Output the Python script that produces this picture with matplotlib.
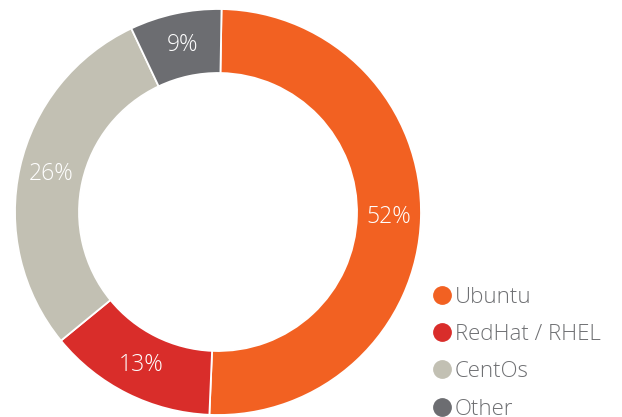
import numpy as np
import matplotlib.pyplot as plt
from matplotlib.lines import Line2D

labels = ["Ubuntu", "RedHat / RHEL", "CentOs", "Other"]
# wedge sizes as drawn in the picture (the printed labels are rounded differently)
shares = [50.4, 13.4, 28.9, 7.3]
pct_text = ["52%", "13%", "26%", "9%"]
colors = ["#F26122", "#D92D2A", "#C2C0B3", "#6C6D71"]

plt.rcParams['font.family'] = ['Open Sans', 'DejaVu Sans']

W, H = 622, 417
fig = plt.figure(figsize=(W / 100, H / 100), dpi=100)
cx, cy, r_px = 218, 212, 203
ax = fig.add_axes([(cx - r_px) / W, (H - cy - r_px) / H, 2 * r_px / W, 2 * r_px / H])
wedges, _ = ax.pie(shares, colors=colors, startangle=89, counterclock=False, radius=1.0,
                   wedgeprops=dict(width=64 / 203, edgecolor="white", linewidth=1.3))
ax.set_xlim(-1, 1)
ax.set_ylim(-1, 1)
ax.set_aspect("equal")

for w, t in zip(wedges, pct_text):
    mid = np.deg2rad((w.theta1 + w.theta2) / 2)
    rr = 171 / 203
    ax.text(rr * np.cos(mid), rr * np.sin(mid), t, ha="center", va="center",
            color="white", fontsize=16.5, fontweight="light")

# legend drawn by hand
for i, (lab, c) in enumerate(zip(labels, colors)):
    yc = 295 + 37.2 * i
    fig.add_artist(Line2D([441.5 / W], [1 - yc / H], marker="o", markersize=12.5,
                          color=c, linestyle="none", transform=fig.transFigure))
    fig.text(455 / W, 1 - (yc + 8) / H, lab, color="#6F7073", fontsize=16,
             ha="left", va="baseline", fontweight="light")

fig.savefig("out.png", dpi=100)
